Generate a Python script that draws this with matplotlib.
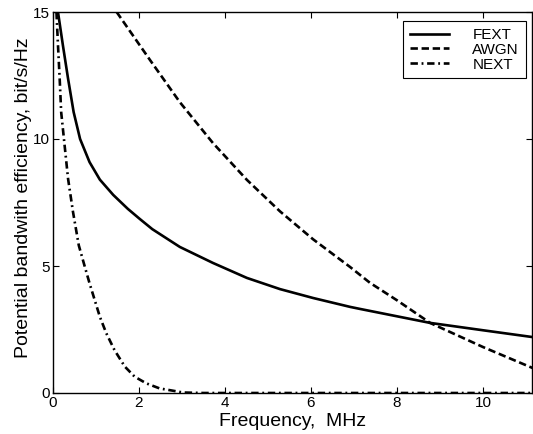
import matplotlib
matplotlib.use("Agg")
import matplotlib.pyplot as plt

# FEXT (solid)
fext_x = [0.116, 0.23, 0.35, 0.48, 0.63, 0.85, 1.09, 1.40, 1.74, 2.02, 2.31, 2.95, 3.72, 4.51, 5.28, 6.05, 6.91, 7.14, 8.77, 10.0, 11.16]
fext_y = [15.0, 13.69, 12.38, 11.06, 10.0, 9.09, 8.4, 7.8, 7.25, 6.85, 6.45, 5.75, 5.12, 4.53, 4.09, 3.74, 3.39, 3.31, 2.76, 2.47, 2.2]

# AWGN (dashed)
awgn_x = [1.48, 2.26, 2.95, 3.72, 4.51, 5.28, 6.05, 6.91, 7.37, 8.0, 8.77, 10.0, 11.16]
awgn_y = [15.0, 13.1, 11.45, 9.84, 8.39, 7.15, 6.05, 4.96, 4.34, 3.65, 2.76, 1.81, 0.98]

# NEXT (dash-dot)
next_x = [0.08, 0.116, 0.155, 0.19, 0.27, 0.35, 0.465, 0.60, 0.74, 0.85, 0.97, 1.09, 1.24, 1.43, 1.67, 1.90, 2.17, 2.48, 2.79, 3.02, 3.5, 11.16]
next_y = [15.0, 13.69, 12.38, 11.06, 9.75, 8.44, 7.13, 5.81, 4.97, 4.32, 3.66, 3.0, 2.35, 1.69, 1.04, 0.64, 0.38, 0.18, 0.09, 0.02, 0.0, 0.0]

xticks = [0, 2, 4, 6, 8, 10]
yticks = [0, 5, 10, 15]

plt.rcParams['font.family'] = ['Liberation Sans', 'DejaVu Sans']

fig = plt.figure(figsize=(5.33, 4.34), dpi=100)
ax = fig.add_axes([53/533, 41/434, (532-53)/533, (393-12)/434])

lw = 1.9
ax.plot(fext_x, fext_y, color='black', lw=lw, linestyle='-', label='FEXT')
ax.plot(awgn_x, awgn_y, color='black', lw=lw, linestyle=(0, (2.8, 1.4)), label='AWGN')
ax.plot(next_x, next_y, color='black', lw=lw, linestyle=(0, (2.8, 1.4, 0.7, 1.4)), label='NEXT')

ax.set_xlim(0, 11.14)
ax.set_ylim(0, 15)
ax.set_xticks(xticks)
ax.set_yticks(yticks)
ax.tick_params(direction='in', top=True, right=True, length=4, width=0.8, labelsize=11, pad=2)
for s in ax.spines.values():
    s.set_linewidth(1.0)

ax.set_xlabel('Frequency,  MHz', fontsize=14, labelpad=2)
ax.set_ylabel('Potential bandwith efficiency, bit/s/Hz', fontsize=14)
ax.yaxis.set_label_coords(-0.044, 0.513)

leg = ax.legend(loc='upper right', fontsize=11, frameon=True, fancybox=False,
                edgecolor='black', framealpha=1, handlelength=2.6, handletextpad=1.5,
                borderpad=0.45, labelspacing=0.05, borderaxespad=0,
                bbox_to_anchor=(0.987, 0.976))
leg.get_frame().set_linewidth(0.8)

fig.savefig('out.png', dpi=100)
